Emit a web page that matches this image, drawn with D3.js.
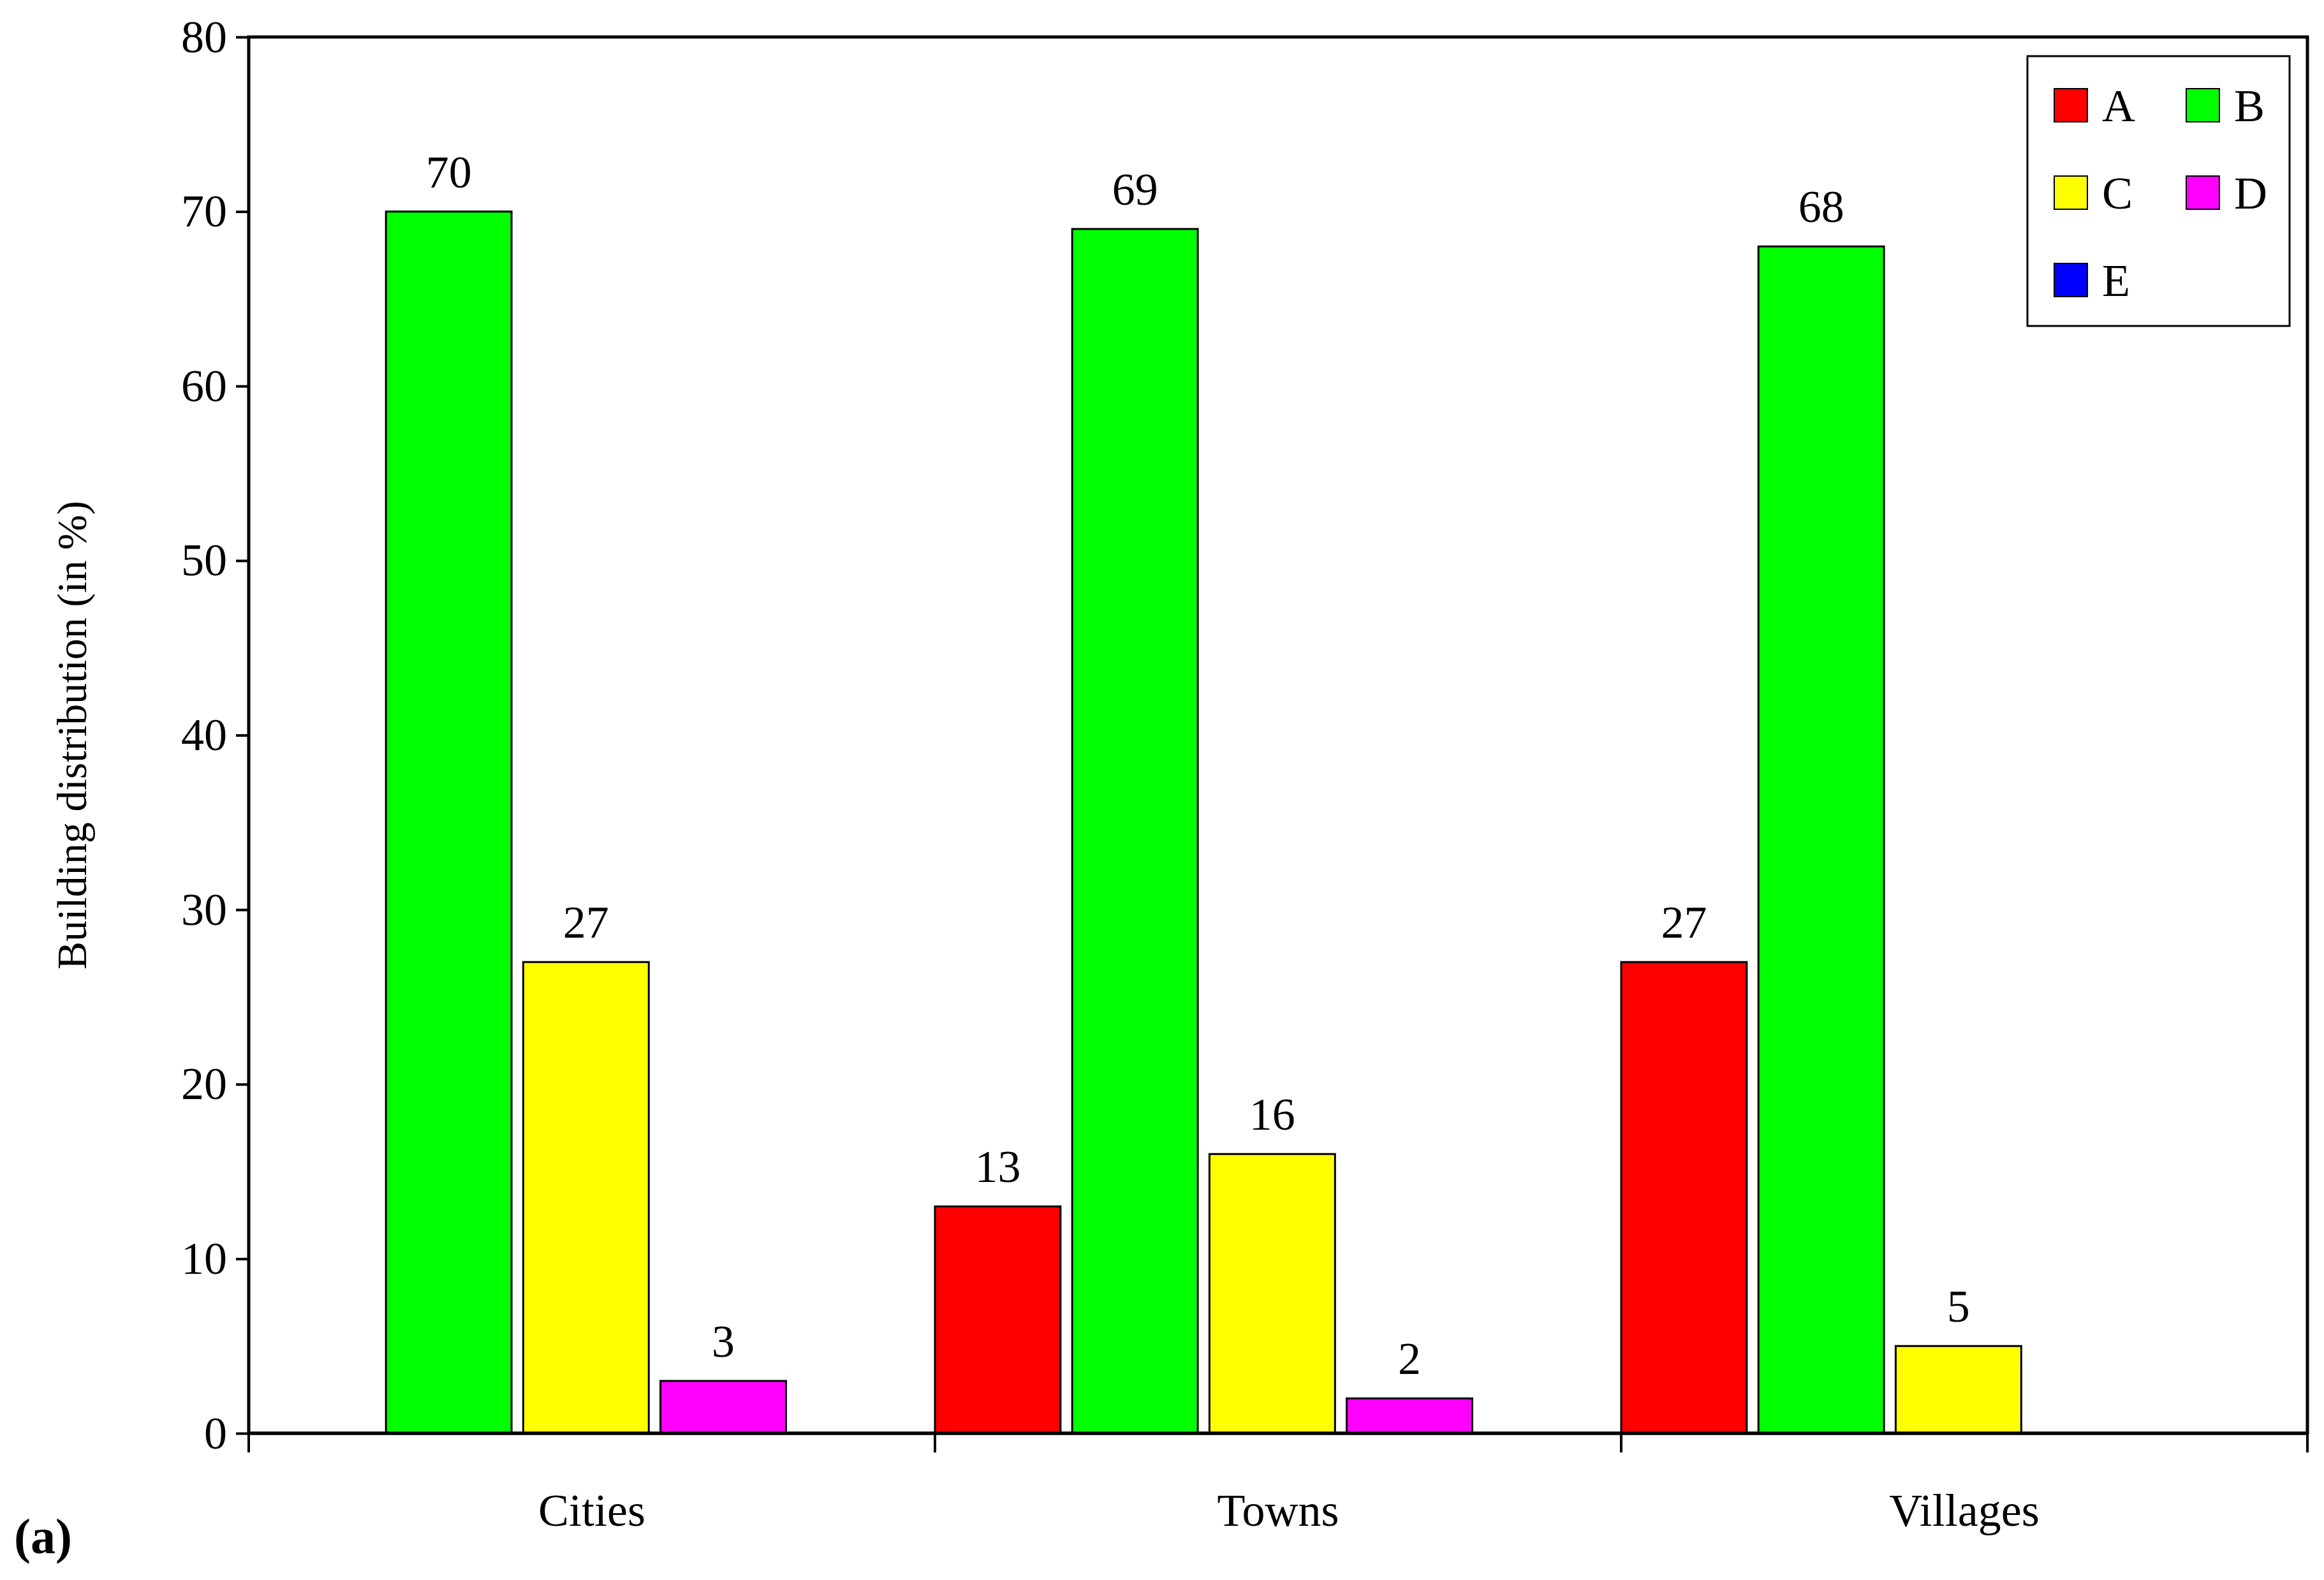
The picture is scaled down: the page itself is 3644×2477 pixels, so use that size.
<!DOCTYPE html><html><head><script src="https://cdn.jsdelivr.net/npm/d3@7"></script>
<style>body{margin:0;background:#fff}text{font-family:"Liberation Serif","Times New Roman",serif}</style></head><body>
<script>
const categories=["Cities","Towns","Villages"];
const series=["A","B","C","D","E"];
const colors=["#ff0000","#00ff00","#ffff00","#ff00ff","#0000ff"];
const values={A:[0,13,27],B:[70,69,68],C:[27,16,5],D:[3,2,0],E:[0,0,0]};
const yTicks=[0,10,20,30,40,50,60,70,80];
const W=3644,H=2477,L=390,R=3618,T=58,B=2247;
const svg=d3.select("body").append("svg").attr("width",W).attr("height",H);
const x=d3.scaleBand().domain(categories).range([L,R]);
const xs=d3.scaleBand().domain(series).range([0,x.bandwidth()]);
const y=d3.scaleLinear().domain([0,80]).range([B,T]);
const bw=xs.bandwidth()*0.915;
categories.forEach((c,i)=>{series.forEach((s,j)=>{const v=values[s][i];if(!v)return;
 const x0=x(c)+xs(s);
 svg.append("rect").attr("x",x0).attr("y",y(v)).attr("width",bw).attr("height",B-y(v)).attr("fill",colors[j]).attr("stroke","#000").attr("stroke-width",3);
 svg.append("text").attr("x",x0+bw/2).attr("y",y(v)-38).attr("text-anchor","middle").attr("font-size",72).text(v);});});
svg.append("rect").attr("x",L).attr("y",T).attr("width",R-L).attr("height",B-T).attr("fill","none").attr("stroke","#000").attr("stroke-width",5);
const ya=svg.append("g").attr("transform",`translate(${L},0)`).call(d3.axisLeft(y).tickValues(yTicks).tickSize(20).tickPadding(14));
ya.select(".domain").remove();ya.selectAll("line").attr("stroke-width",4);ya.selectAll("text").attr("font-size",72).attr("font-family","Liberation Serif");
const bounds=[L,...categories.map(c=>x(c)+x.bandwidth())];
bounds.forEach(b=>svg.append("line").attr("x1",b).attr("x2",b).attr("y1",B).attr("y2",B+30).attr("stroke","#000").attr("stroke-width",4));
svg.append("line").attr("x1",L).attr("x2",R).attr("y1",B).attr("y2",B).attr("stroke","#000").attr("stroke-width",5);
categories.forEach(c=>svg.append("text").attr("x",x(c)+x.bandwidth()/2).attr("y",B+145).attr("text-anchor","middle").attr("font-size",72).text(c));
svg.append("text").attr("transform",`translate(135,${(T+B)/2}) rotate(-90)`).attr("text-anchor","middle").attr("font-size",66).text("Building distribution (in %)");
svg.append("text").attr("x",22).attr("y",2435).attr("font-size",78).attr("font-weight","bold").text("(a)");
const lg=svg.append("g");
lg.append("rect").attr("x",3179).attr("y",88).attr("width",411).attr("height",423).attr("fill","#fff").attr("stroke","#000").attr("stroke-width",3);
series.forEach((s,j)=>{const cx=3221+(j%2)*207,cy=165+Math.floor(j/2)*137;
 lg.append("rect").attr("x",cx).attr("y",cy-26).attr("width",52).attr("height",52).attr("fill",colors[j]).attr("stroke","#000").attr("stroke-width",2);
 lg.append("text").attr("x",cx+75).attr("y",cy+25).attr("font-size",72).text(s);});
</script></body></html>
